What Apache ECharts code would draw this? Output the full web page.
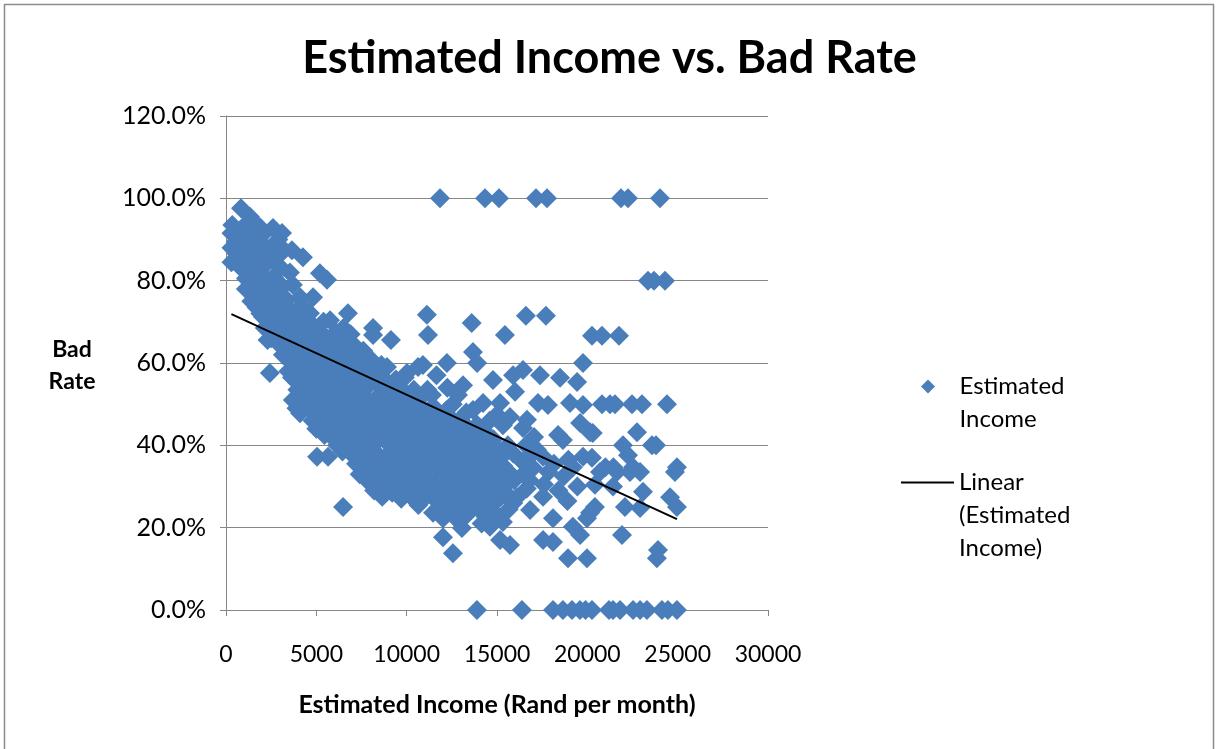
<!DOCTYPE html>
<html>
<head>
<meta charset="utf-8">
<title>Estimated Income vs. Bad Rate</title>
<script src="https://cdn.jsdelivr.net/npm/echarts@6/dist/echarts.min.js"></script>
<style>
  html, body { margin: 0; padding: 0; background: #ffffff; }
  #chart { width: 1219px; height: 749px; }
</style>
</head>
<body>
<div id="chart"></div>
<script>
// Accounts grouped by estimated income: [income in Rand per month, bad rate in %]
const bandUnder5k = [
  [300,84.5],[300,88],[300,91.5],[350,93.5],
  [600,85],[600,86.5],[550,89.5],[600,92],
  [830,97.6],[800,90.4],[850,87],[850,83],
  [1100,93.7],[1100,91],[1150,88],[1160,84.3],[1100,80.5],[1100,78],
  [1330,95.5],[1350,92],[1500,89],[1400,86],[1350,82.5],[1500,77.7],[1400,75],
  [1600,94],[1650,91],[1600,87.5],[1650,85],[1500,80.2],[1650,76.5],[1700,73.5],
  [1880,93],[1900,89.5],[1850,85.5],[1900,81],[1900,78.5],[1880,75.3],[1900,72],
  [2100,91.5],[2100,88],[2050,83.3],[2150,79],[2100,76],[2050,71.2],[2150,68.5],
  [2270,80.2],[2300,86],[2300,73.5],[2300,65.6],[2430,57.6],
  [2600,92.8],[2650,88.5],[2600,85],[2650,81],[2600,77.7],[2600,74.5],[2650,70.5],[2600,67],[2500,66],
  [2900,90],[2900,86],[3000,83.3],[2900,79.5],[2950,76],[3000,72.1],[2900,68.5],[2950,64.5],
  [3100,91.6],[3200,87.5],[3150,78.5],[3200,74],[3150,70],[3200,66],[3150,62],
  [3540,82],[3380,75.3],[3450,72],[3400,68],[3450,65],[3400,61],[3450,58],
  [3650,87.4],[3700,79],[3650,69.5],[3700,66.5],[3650,63],[3700,60],[3650,56.5],[3700,51],
  [3930,72.9],[3900,70],[3950,67],[3900,64],[3950,60.5],[3900,57.5],[3950,53.5],[3900,49],
  [4100,76],[4100,68],[4150,65.5],[4100,62],[4150,59],[4100,55.5],[4100,47.8],
  [4260,85.7],[4300,73.5],[4250,70.5],[4300,63.5],[4250,52],
  [4500,67],[4450,64.5],[4500,61],[4500,58],[4450,55],[4500,50.5],
  [4650,72.1],[4650,59],[4700,62.5],[4700,56.5],[4650,53],[4700,48.5],
  [4820,76],[4850,69],[4800,66],[4850,60.5],[4800,57.5],[4850,51],[4800,46]
];

const band5kTo10k = [
  [5040,37.2],[5050,63.5],[5000,60],[5050,55],[5000,52.5],[5050,49.5],[5000,44],
  [5200,81.8],[5200,67.5],[5250,64.5],[5200,58.5],[5250,50.5],[5200,47],
  [5400,70],[5400,61.5],[5450,56],[5400,53.5],[5400,45.5],[5450,42.5],
  [5590,80.2],[5600,66],[5600,63],[5650,59.5],[5600,51.5],[5600,48.5],[5650,37.2],
  [5760,70.4],[5800,57],[5800,54.5],[5750,46],[5800,43.5],
  [5920,41.8],[5950,64.5],[5950,61.5],[5900,52],[5950,49],
  [6100,67.5],[6150,58.5],[6100,55.5],[6150,47.5],[6100,44.5],[6150,40],
  [6300,62.5],[6350,60],[6300,53],[6350,50.5],[6300,42.5],
  [6480,25],[6500,68.5],[6450,65],[6500,56.5],[6450,48],[6500,45],[6450,38.5],
  [6750,72.1],[6700,63.5],[6750,61],[6700,58],[6750,54],[6700,51.5],[6750,46.5],[6700,41],
  [6860,55.9],[6900,67],[6900,43.5],[6900,39],
  [7050,64.5],[7050,60],[7100,57],[7050,49.5],[7100,47],[7050,37.5],
  [7200,62],[7250,52.5],[7200,44],[7250,41.5],[7200,35.5],
  [7420,37.2],[7400,58.5],[7450,55],[7400,50],[7450,46.5],[7400,33],
  [7600,63],[7650,60.5],[7600,53.5],[7650,48],[7600,43],[7650,40],[7600,35],
  [7800,57.5],[7850,51],[7800,45],[7850,38],[7800,31.5],
  [8000,61],[8000,55],[8050,49],[8000,42.5],[8050,36.5],[8000,33.5],
  [8140,68.5],[8140,66.8],[8200,59],[8200,46.5],[8150,40],[8200,29],
  [8360,51.7],[8400,57],[8400,44],[8350,38],[8400,35],[8350,31],
  [8600,59.5],[8600,54],[8650,48.5],[8600,42],[8650,36],[8600,33],[8650,27.5],
  [8910,59],[8900,55.5],[8950,50.5],[8900,45.5],[8950,40.5],[8900,37.5],[8950,34],[8900,30],
  [9130,65.6],[9150,52.5],[9200,47.5],[9150,43],[9200,38.5],[9150,32],[9200,28.5],
  [9400,56],[9400,50],[9450,45],[9400,41],[9450,36.5],[9400,33.5],[9450,29.5],
  [9650,54],[9650,48],[9700,43.5],[9650,39.5],[9700,35],[9650,31],[9700,27],
  [9900,56.5],[9900,51.5],[9950,46.5],[9900,42],[9950,37.5],[9900,33.5],[9950,29]
];

const band10kTo15k = [
  [10020,57.6],[10020,28.4],
  [10200,49.5],[10250,45],[10200,40.5],[10250,36],[10200,32],[10250,27.5],
  [10400,53.5],[10450,47.5],[10400,43],[10450,38.5],[10400,34.5],[10450,30.5],
  [10630,59],[10650,51],[10600,45.5],[10650,41],[10600,37],[10650,33],[10600,29.5],[10650,25.5],
  [10900,59.5],[10900,48.5],[10950,44],[10900,39.5],[10950,35.5],[10900,31.5],[10950,27],
  [11120,71.7],[11180,66.8],[11120,28.4],[11150,53.5],[11200,46],[11150,42],[11200,38],[11150,34],
  [11400,52.2],[11450,49.5],[11400,40.5],[11450,36.5],[11400,32.5],[11450,29],[11460,23.6],
  [11650,57],[11600,47],[11650,43.5],[11600,39],[11650,35],[11600,30.5],[11650,26.5],
  [12010,22.3],[12010,17.7],[12000,45],[12050,41.5],[12000,37.5],[12050,33.5],[12000,29.5],[12050,25],
  [12230,60],[12250,54],[12200,48.5],[12250,43],[12200,39.5],[12250,35.5],[12200,31],[12250,27.5],
  [12560,13.8],[12550,50],[12600,46],[12550,41],[12600,37],[12550,33],[12600,28.5],[12550,24],
  [12840,52.2],[12950,46.2],[12850,43.5],[12900,39],[12850,34.5],[12900,30],[12850,26],[12900,21.5],
  [13060,19.9],[13100,42],[13050,36],[13100,32],[13050,28],[13100,24.5],[13120,54.6],
  [13300,48],[13350,44.5],[13300,40],[13350,35],[13300,31],[13350,27],[13300,23],
  [13600,69.7],[13670,62.7],[13670,48.6],[13600,42],[13650,37.5],[13600,33.5],[13650,29],[13600,25],
  [13900,60],[13900,45],[13950,39.5],[13900,35.5],[13950,31.5],[13900,27],
  [14100,43],[14150,37],[14100,33],[14150,29.5],[14100,24],[14150,21],
  [14230,50.3],[14230,43.7],
  [14400,40.5],[14450,35],[14400,31],[14450,26.5],[14400,22.5],
  [14610,20.2],[14600,46],[14650,38],[14600,33.5],[14650,28.5],[14600,24.5],
  [14780,55.9],[14800,41.5],[14850,36],[14800,31],[14850,26]
];

const band15kTo20k = [
  [15000,47.5],[15050,39],[15000,34],[15050,29],[15000,23],
  [15170,50.3],[15170,17],[15200,37],[15250,32.5],[15200,27.5],
  [15330,44.9],[15330,21.4],[15350,35],[15400,30],
  [15440,66.8],
  [15600,40],[15650,33.5],[15600,28],[15650,24.5],
  [15720,46.9],[15720,15.8],
  [15890,57],[15900,38],[15950,31.5],[15900,26],
  [16000,53],[16110,27.4],
  [16440,58.3],[16440,44.2],[16400,36],[16450,33],
  [16600,71.5],[16660,46.2],[16600,40],[16650,29.5],
  [16830,24.3],[16850,37.5],[16800,31.5],
  [17000,34.5],[17050,42],
  [17210,38.9],[17270,50.3],[17380,57],
  [17550,37.2],[17550,17],[17600,30.5],[17550,27.5],
  [17710,71.5],
  [17820,49.8],[17850,33.5],
  [18100,16.5],[18100,22.3],[18150,35.5],
  [18380,42.5],[18400,29],
  [18490,56.4],
  [18650,41.3],[18700,32.5],
  [18930,12.6],[18950,36.5],[18900,26.5],
  [19040,50.3],
  [19200,34.7],[19200,20.2],
  [19430,55.4],[19450,30],
  [19600,45.4],[19600,18.2],
  [19760,60],[19760,49.8],[19760,37.2],
  [19980,12.6],[19980,22.3]
];

const band20kTo25k = [
  [20150,43.2],[20150,23.6],[20258,66.6],[20258,37],[20420,30.4],[20420,25],
  [20812,66.6],[20812,50],[20300,43],[20700,33.5],
  [21000,34.7],[21254,50],[21420,30],[21440,34.7],[21531,50],[21640,33.5],
  [21753,66.6],[22250,37.6],[21920,18.2],[21974,40],[22080,25],
  [22360,33.5],[22472,50],[22530,34.7],[22750,43.2],[22920,24.8],[22920,33.5],
  [23026,50],[23080,28.7],[23580,40],[23800,40],
  [23850,12.6],[23910,14.6],[24410,50],[24580,27.4],[24850,33.5],[24960,34.7],[24960,25],
  [23358,80],[23690,80],[24300,80]
];

const fullDefault = [
  [11845,100],[14336,100],[15110,100],[17159,100],[17767,100],
  [21863,100],[22251,100],[24022,100]
];

const noDefault = [
  [13890,0],[16380,0],[18100,0],[18650,0],[19150,0],[19590,0],[19900,0],
  [20260,0],[21200,0],[21420,0],[21810,0],[22530,0],[22920,0],[23300,0],
  [24130,0],[24460,0],[24960,0]
];

// Linear trend: bad rate (%) = intercept + slope * income
const trendIntercept = 72.5;
const trendSlope = -0.00202;

const yTicks = { min: 0, max: 120, step: 20 };
const xTicks = { min: 0, max: 30000, step: 5000 };

const allPoints = [].concat(bandUnder5k, band5kTo10k, band10kTo15k, band15kTo20k,
                            band20kTo25k, fullDefault, noDefault);
const incomes = allPoints.map(p => p[0]);
const xLow = Math.min.apply(null, incomes);
const xHigh = Math.max.apply(null, incomes);
const trendPoints = [
  [xLow, trendIntercept + trendSlope * xLow],
  [xHigh, trendIntercept + trendSlope * xHigh]
];

const FONT = 'Lato, "Open Sans", "Noto Sans", sans-serif';
const AXIS_GREY = '#868686';
const MARKER_BLUE = '#4A7EBB';
const DIAMOND = 'path://M0,-1L1,0L0,1L-1,0Z';

const chart = echarts.init(document.getElementById('chart'), null, { renderer: 'canvas' });

chart.setOption({
  animation: false,
  backgroundColor: '#ffffff',
  title: {
    text: 'Estimated Income vs. Bad Rate',
    left: 'center',
    top: 31,
    textStyle: { fontFamily: FONT, fontWeight: 'bold', fontSize: 45, color: '#000' }
  },
  grid: { left: 226, right: 451, top: 116, bottom: 139, containLabel: false },
  xAxis: {
    type: 'value',
    min: xTicks.min, max: xTicks.max, interval: xTicks.step,
    name: 'Estimated Income (Rand per month)',
    nameLocation: 'middle',
    nameGap: 82,
    nameTextStyle: { fontFamily: FONT, fontWeight: 'bold', fontSize: 25, color: '#000' },
    axisLine: { show: true, lineStyle: { color: AXIS_GREY, width: 1 } },
    axisTick: { show: true, inside: false, length: 6, lineStyle: { color: AXIS_GREY } },
    splitLine: { show: false },
    axisLabel: {
      margin: 33, fontFamily: FONT, fontSize: 23, color: '#000',
      formatter: v => String(v)
    }
  },
  yAxis: {
    type: 'value',
    min: yTicks.min, max: yTicks.max, interval: yTicks.step,
    axisLine: { show: true, lineStyle: { color: AXIS_GREY, width: 1 } },
    axisTick: { show: true, inside: false, length: 6, lineStyle: { color: AXIS_GREY } },
    splitLine: { show: true, lineStyle: { color: AXIS_GREY, width: 1 } },
    axisLabel: {
      margin: 20, fontFamily: FONT, fontSize: 25, color: '#000',
      formatter: v => v.toFixed(1) + '%'
    }
  },
  legend: [
    {
      // leading blank line keeps the first text line level with the marker
      data: [{ name: 'Estimated Income', icon: DIAMOND }],
      orient: 'vertical',
      left: 921,
      top: 337,
      padding: 0,
      itemWidth: 53,
      itemHeight: 14,
      symbolKeepAspect: true,
      selectedMode: false,
      formatter: () => ' \nEstimated\nIncome',
      textStyle: { fontFamily: FONT, fontSize: 24, color: '#000', lineHeight: 33 }
    },
    {
      data: [{ name: 'Linear (Estimated Income)', icon: 'rect' }],
      orient: 'vertical',
      left: 901,
      top: 400,
      padding: 0,
      itemWidth: 53,
      itemHeight: 2,
      selectedMode: false,
      formatter: () => ' \n \nLinear\n(Estimated\nIncome)',
      textStyle: { fontFamily: FONT, fontSize: 24, color: '#000', lineHeight: 33 }
    }
  ],
  graphic: [
    {
      type: 'rect',
      silent: true,
      shape: { x: 4.5, y: 4.5, width: 1209, height: 800 },
      style: { fill: 'none', stroke: '#8c8c8c', lineWidth: 1.5 }
    },
    {
      type: 'text',
      silent: true,
      x: 72, y: 366,
      style: {
        text: 'Bad\nRate',
        align: 'center', verticalAlign: 'middle',
        font: 'bold 23px ' + FONT, lineHeight: 32, fill: '#000'
      }
    }
  ],
  series: [
    {
      name: 'Estimated Income',
      type: 'scatter',
      symbol: 'diamond',
      symbolSize: 20,
      itemStyle: { color: MARKER_BLUE, opacity: 1 },
      data: allPoints,
      z: 2
    },
    {
      name: 'Linear (Estimated Income)',
      type: 'line',
      data: trendPoints,
      symbol: 'none',
      lineStyle: { color: '#000', width: 2 },
      itemStyle: { color: '#000' },
      z: 3
    }
  ]
});
</script>
</body>
</html>
